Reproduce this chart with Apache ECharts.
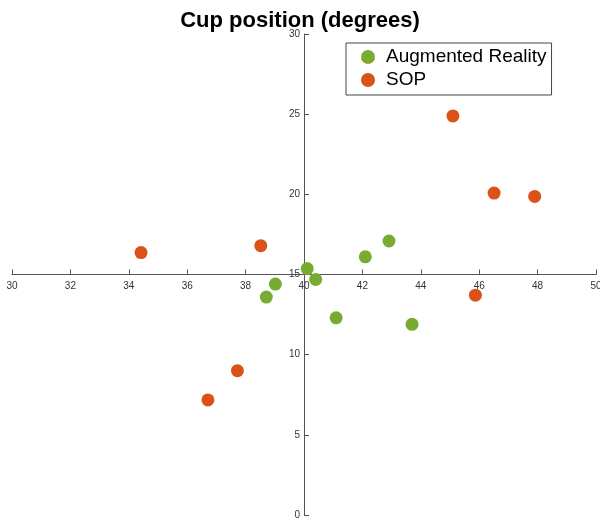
<!DOCTYPE html>
<html><head><meta charset="utf-8">
<script src="https://cdn.jsdelivr.net/npm/echarts@6/dist/echarts.min.js"></script>
<style>html,body{margin:0;padding:0;background:#fff}#c{width:600px;height:521px}</style>
</head><body><div id="c"></div>
<script>
const titleText = 'Cup position (degrees)';
const seriesNames = ['Augmented Reality', 'SOP'];
const arX = [40.11, 40.40, 39.02, 38.71, 41.10, 42.10, 42.91, 43.70];
const arY = [15.37, 14.69, 14.40, 13.59, 12.30, 16.10, 17.09, 11.89];
const sopX = [34.42, 38.52, 45.10, 46.51, 47.90, 45.87, 37.72, 36.71];
const sopY = [16.37, 16.80, 24.89, 20.08, 19.87, 13.71, 9.00, 7.18];
const xRange = [30, 50], xStep = 2;
const yRange = [0, 30], yStep = 5;
const xCross = 40, yCross = 15;

const grid = {left: 12, right: 4, top: 34, bottom: 6, outerBoundsMode: 'none', containLabel: false};
const W = 600, H = 521;
const gw = W - grid.left - grid.right, gh = H - grid.top - grid.bottom;
const xOffset = -(yCross - yRange[0]) / (yRange[1] - yRange[0]) * gh;
const yOffset = -(xCross - xRange[0]) / (xRange[1] - xRange[0]) * gw;

const axisCol = '#555';
const chart = echarts.init(document.getElementById('c'), null, {renderer: 'canvas'});
chart.setOption({
  animation: false,
  title: {text: titleText, left: 'center', top: 5,
    textStyle: {fontFamily: 'Liberation Sans, Arial, sans-serif', fontSize: 22, fontWeight: 'bold', color: '#000'}},
  grid: grid,
  legend: {
    orient: 'vertical', left: 346, top: 43, data: seriesNames,
    icon: 'circle', itemWidth: 26, itemHeight: 14, itemGap: 3,
    padding: [4, 5, 5, 15], borderColor: '#444', borderWidth: 1, backgroundColor: '#fff',
    textStyle: {fontFamily: 'Liberation Sans, Arial, sans-serif', fontSize: 19, lineHeight: 20, color: '#000'}
  },
  xAxis: {
    type: 'value', min: xRange[0], max: xRange[1], interval: xStep,
    position: 'bottom', offset: xOffset,
    axisLine: {onZero: false, lineStyle: {color: axisCol, width: 1}},
    axisTick: {inside: true, length: 5, lineStyle: {color: axisCol}},
    axisLabel: {color: '#333', fontSize: 10, fontFamily: 'Liberation Sans, Arial, sans-serif', margin: 7},
    splitLine: {show: false}
  },
  yAxis: {
    type: 'value', min: yRange[0], max: yRange[1], interval: yStep,
    position: 'left', offset: yOffset,
    axisLine: {show: true, onZero: false, lineStyle: {color: axisCol, width: 1}},
    axisTick: {show: true, inside: true, length: 5, lineStyle: {color: axisCol}},
    axisLabel: {color: '#333', fontSize: 10, fontFamily: 'Liberation Sans, Arial, sans-serif', margin: 4},
    splitLine: {show: false}
  },
  series: [
    {name: seriesNames[0], type: 'scatter', symbolSize: 13,
      itemStyle: {color: '#77AC30', opacity: 1},
      data: arX.map((x, i) => [x, arY[i]])},
    {name: seriesNames[1], type: 'scatter', symbolSize: 13,
      itemStyle: {color: '#D95319', opacity: 1},
      data: sopX.map((x, i) => [x, sopY[i]])}
  ]
});
</script></body></html>
